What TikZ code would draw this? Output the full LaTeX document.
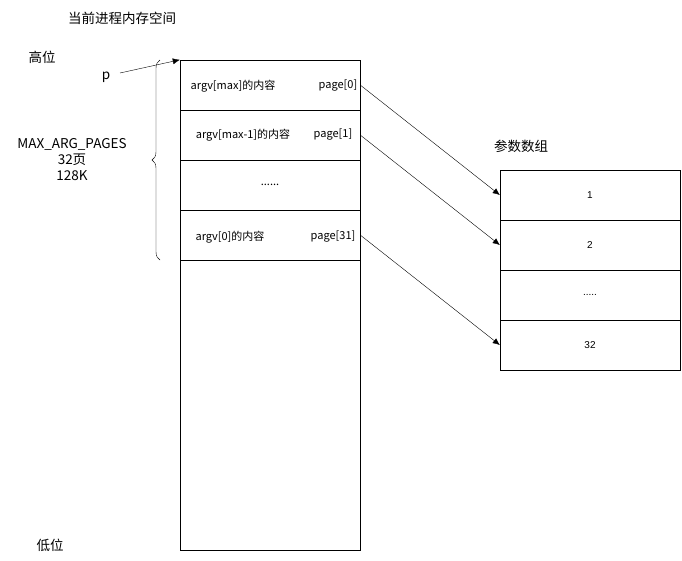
\documentclass[tikz,border=0pt]{standalone}
\usepackage{fontspec}
\setmainfont{Liberation Sans}
\newfontfamily\cjk{Noto Sans CJK SC}
\usetikzlibrary{decorations.pathreplacing,arrows.meta}
\begin{document}
\begin{tikzpicture}[
	x=1pt,y=-1pt,
	cell/.style={
		rectangle,
		draw=black,
		minimum width=180pt,
		minimum height=50pt,
		inner sep=0pt
	},
	small/.style={
		font=\fontsize{11}{12}\selectfont\cjk,
		inner sep=0pt
	},
	big/.style={
		font=\fontsize{13.5}{16}\selectfont\cjk,
		inner sep=0pt,
		align=center
	},
	link/.style={
		-{Latex[length=7pt,width=6pt]}
	},
]
\useasboundingbox (0,0) rectangle (682,560);

\node[cell] (cell_max) at (270, 85) {};
\node[cell] (cell_max1) at (270, 135) {};
\node[cell] (cell_dots) at (270, 185) {};
\node[cell] (cell_zero) at (270, 235) {};
\node[cell, minimum height=290pt] (cell_rest) at (270, 405) {};

\node[small] (argv_max) at (233, 86) {argv[max]的内容};
\node[small] (page_max) at (338, 86) {page[0]};
\node[small] (argv_max1) at (243, 135) {argv[max-1]的内容};
\node[small] (page_max1) at (333, 135) {page[1]};
\node[small] (argv_dots) at (270, 185) {......};
\node[small] (argv_zero) at (230, 237) {argv[0]的内容};
\node[small] (page_zero) at (333, 237) {page[31]};

\node[cell] (arr_a) at (590, 195) {\fontsize{10}{11}\selectfont 1};
\node[cell] (arr_b) at (590, 245) {\fontsize{10}{11}\selectfont 2};
\node[cell] (arr_dots) at (590, 295) {\fontsize{10}{11}\selectfont .....};
\node[cell] (arr_c) at (590, 345) {\fontsize{10}{11}\selectfont 32};

\node[big] (title) at (122, 18) {当前进程内存空间};
\node[big] (high) at (42, 57) {高位};
\node[big] (low) at (50, 545) {低位};
\node[big] (args) at (521, 146) {参数数组};
\node[big] (p) at (106, 77) {p};
\node[big] (pages) at (72, 160) {MAX\_ARG\_PAGES\\32页\\128K};

\coordinate (p_start) at (120, 73);
\draw[link] (p_start) -- (cell_max.north west);

\draw[link] (cell_max.east) -- (arr_a.west);
\draw[link] (cell_max1.east) -- (arr_b.west);
\draw[link] (cell_zero.east) -- (arr_c.west);

\draw[decorate, decoration={brace, amplitude=8pt}] (160, 260) -- (160, 60);

\end{tikzpicture}
\end{document}
